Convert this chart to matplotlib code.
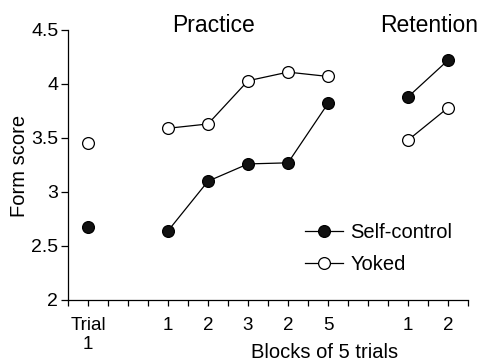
import matplotlib
matplotlib.use("Agg")
import matplotlib.pyplot as plt

plt.rcParams['font.family'] = ['Liberation Sans', 'DejaVu Sans']

# x positions on the axis (ticks every 1 unit, 0..20)
trial_x = [1]
practice_x = [5, 7, 9, 11, 13]
retention_x = [17, 19]

# form scores
trial_self = [2.68]
trial_yoked = [3.45]
practice_self = [2.64, 3.10, 3.26, 3.27, 3.82]
practice_yoked = [3.59, 3.63, 4.03, 4.11, 4.07]
retention_self = [3.88, 4.22]
retention_yoked = [3.48, 3.78]

tick_pos = [1, 5, 7, 9, 11, 13, 17, 19]
tick_labels = ["Trial\n1", "1", "2", "3", "2", "5", "1", "2"]
y_ticks = [2, 2.5, 3, 3.5, 4, 4.5]
y_labels = ["2", "2.5", "3", "3.5", "4", "4.5"]

fig = plt.figure(figsize=(4.84, 3.62), dpi=100)
ax = fig.add_axes([68 / 484, 1 - 300 / 362, 400 / 484, 270 / 362])

self_style = dict(color="black", lw=0.9, marker="o", markersize=8.5,
                  markerfacecolor="#111111", markeredgecolor="black", markeredgewidth=0.9)
yoked_style = dict(color="black", lw=0.9, marker="o", markersize=8.5,
                   markerfacecolor="white", markeredgecolor="black", markeredgewidth=0.9)

ax.plot(trial_x, trial_self, **self_style)
ax.plot(trial_x, trial_yoked, **yoked_style)
ax.plot(practice_x, practice_self, label="Self-control", **self_style)
ax.plot(practice_x, practice_yoked, label="Yoked", **yoked_style)
ax.plot(retention_x, retention_self, **self_style)
ax.plot(retention_x, retention_yoked, **yoked_style)

ax.set_xlim(0, 20)
ax.set_ylim(2, 4.5)
ax.spines['top'].set_visible(False)
ax.spines['right'].set_visible(False)
ax.spines['left'].set_linewidth(0.9)
ax.spines['bottom'].set_linewidth(0.9)

# tick every unit, labels only at the data positions
all_ticks = list(range(0, 21))
all_labels = [""] * 21
for p, lab in zip(tick_pos, tick_labels):
    all_labels[p] = lab
ax.set_xticks(all_ticks)
ax.set_xticklabels(all_labels, fontsize=13.5, va="top")
ax.tick_params(axis='x', length=4, width=0.9, direction='out', pad=8)

ax.set_yticks(y_ticks)
ax.set_yticklabels(y_labels, fontsize=14)
ax.tick_params(axis='y', length=5, width=0.9, direction='out', pad=2)

ax.legend(loc="upper left", bbox_to_anchor=(295 / 484, 1 - 213 / 362),
          bbox_transform=fig.transFigure, frameon=False, fontsize=14.5,
          handlelength=1.9, handletextpad=0.35, labelspacing=0.62, borderpad=0)

fig.text(214 / 484, 1 - 32 / 362, "Practice", fontsize=16.5, ha="center", va="baseline")
fig.text(429 / 484, 1 - 32 / 362, "Retention", fontsize=16.5, ha="center", va="baseline")
fig.text(325 / 484, 1 - 358 / 362, "Blocks of 5 trials", fontsize=14.5, ha="center", va="baseline")
fig.text(20 / 484, 1 - 166 / 362, "Form score", fontsize=14.5, rotation=90, ha="center", va="center")

plt.savefig("out.png", dpi=100)
